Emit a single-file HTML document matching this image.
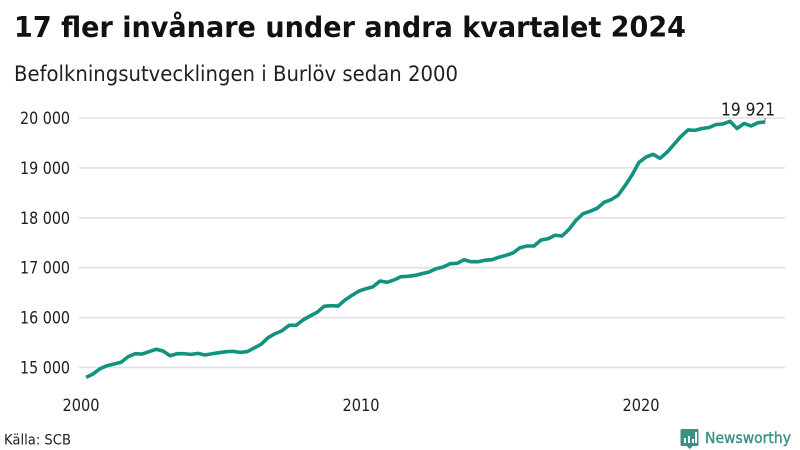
<!DOCTYPE html>
<html lang="sv">
<head>
<meta charset="utf-8">
<title>17 fler invånare under andra kvartalet 2024</title>
<style>
html,body{margin:0;padding:0;background:#fff}
svg{display:block}
text{font-family:"DejaVu Sans","Liberation Sans",sans-serif;fill:#1f1f1f}
</style>
</head>
<body>
<svg id="chart" xmlns="http://www.w3.org/2000/svg" width="800" height="450" viewBox="0 0 800 450">
  <rect width="800" height="450" fill="#ffffff"/>
  <text x="14" y="37" font-size="28.5" font-weight="700" textLength="672" lengthAdjust="spacingAndGlyphs" style="fill:#111">17 fler invånare under andra kvartalet 2024</text>
  <text x="14" y="81" font-size="21" textLength="444" lengthAdjust="spacingAndGlyphs">Befolkningsutvecklingen i Burlöv sedan 2000</text>
  <g id="grid"></g>
  <g id="yticks"></g>
  <g id="xticks"></g>
  <path id="series" fill="none" stroke="#12927f" stroke-width="3.6" stroke-linejoin="round" stroke-linecap="butt"></path>
  <line id="endTick" stroke="#777" stroke-width="1"></line>
  <text id="endLabel" font-size="17.500" text-anchor="middle" textLength="54" lengthAdjust="spacingAndGlyphs"></text>
  <text x="4" y="444.500" font-size="14.500" textLength="67" lengthAdjust="spacingAndGlyphs">Källa: SCB</text>
  <g>
    <path d="M682 429h15a1.5 1.5 0 0 1 1.5 1.5v14a1.5 1.5 0 0 1-1.5 1.5h-4l-3.2 3-3.2-3H682a1.5 1.5 0 0 1-1.500-1.500v-14a1.500 1.500 0 0 1 1.500-1.500z" fill="#3b9186"/>
    <rect x="684" y="438" width="2" height="5" fill="#fff"/>
    <rect x="688" y="436" width="2" height="7" fill="#fff"/>
    <rect x="692" y="439" width="2" height="4" fill="#fff"/>
    <rect x="695" y="432" width="2" height="11" fill="#fff"/>
    <text x="705" y="443" font-size="15.500" font-weight="400" stroke="#3b9186" stroke-width="0.4" textLength="86" lengthAdjust="spacingAndGlyphs" style="fill:#3b9186">Newsworthy</text>
  </g>
</svg>
<script>
const categories = [
"2000Q1","2000Q2","2000Q3","2000Q4","2001Q1","2001Q2","2001Q3","2001Q4","2002Q1","2002Q2","2002Q3","2002Q4",
"2003Q1","2003Q2","2003Q3","2003Q4","2004Q1","2004Q2","2004Q3","2004Q4","2005Q1","2005Q2","2005Q3","2005Q4",
"2006Q1","2006Q2","2006Q3","2006Q4","2007Q1","2007Q2","2007Q3","2007Q4","2008Q1","2008Q2","2008Q3","2008Q4",
"2009Q1","2009Q2","2009Q3","2009Q4","2010Q1","2010Q2","2010Q3","2010Q4","2011Q1","2011Q2","2011Q3","2011Q4",
"2012Q1","2012Q2","2012Q3","2012Q4","2013Q1","2013Q2","2013Q3","2013Q4","2014Q1","2014Q2","2014Q3","2014Q4",
"2015Q1","2015Q2","2015Q3","2015Q4","2016Q1","2016Q2","2016Q3","2016Q4","2017Q1","2017Q2","2017Q3","2017Q4",
"2018Q1","2018Q2","2018Q3","2018Q4","2019Q1","2019Q2","2019Q3","2019Q4","2020Q1","2020Q2","2020Q3","2020Q4",
"2021Q1","2021Q2","2021Q3","2021Q4","2022Q1","2022Q2","2022Q3","2022Q4","2023Q1","2023Q2","2023Q3","2023Q4",
"2024Q1","2024Q2"];
const population = [
14803,14870,14976,15036,15070,15104,15216,15276,15270,15317,15365,15330,
15236,15276,15276,15263,15283,15250,15276,15297,15317,15323,15303,15317,
15390,15465,15597,15677,15737,15845,15845,15952,16032,16106,16226,16238,
16232,16353,16447,16533,16579,16619,16733,16707,16754,16820,16827,16847,
16880,16914,16980,17014,17080,17087,17160,17120,17120,17150,17160,17210,
17248,17295,17400,17435,17435,17555,17580,17650,17635,17770,17950,18082,
18130,18190,18310,18362,18450,18643,18858,19112,19218,19272,19192,19313,
19472,19633,19760,19752,19790,19810,19870,19880,19933,19790,19890,19840,
19906,19921];
const yTickValues = [15000,16000,17000,18000,19000,20000];
const xTickYears = [2000,2010,2020];

const SVG_NS = "http://www.w3.org/2000/svg";
function xScale(t){ return 81 + 28 * (t - 2000); }
function yScale(v){ return 367.5 - (v - 15000) * 0.0499; }
function categoryTime(c){ return Number(c.slice(0,4)) + (Number(c.slice(5)) - 1) / 4 + 0.18; }
function formatValue(v){ return String(v).replace(/\B(?=(\d{3})+$)/g, " "); }

const gridGroup = document.getElementById("grid");
const yTickGroup = document.getElementById("yticks");
yTickValues.forEach(function(v){
  const ln = document.createElementNS(SVG_NS, "line");
  
  
  ln.setAttribute("x1", 79);
  ln.setAttribute("x2", 785);
  ln.setAttribute("y1", yScale(v));
  ln.setAttribute("y2", yScale(v));
  ln.setAttribute("stroke", "#dfdfe7");
  ln.setAttribute("stroke-width", "1.6");
  gridGroup.appendChild(ln);
  const tx = document.createElementNS(SVG_NS, "text");
  
  
  tx.setAttribute("x", 70);
  tx.setAttribute("y", yScale(v) + 6);
  tx.setAttribute("text-anchor", "end");
  tx.setAttribute("font-size", "16.5");
  tx.setAttribute("textLength", "50");
  tx.setAttribute("lengthAdjust", "spacingAndGlyphs");
  tx.textContent = formatValue(v);
  yTickGroup.appendChild(tx);
});

const xTickGroup = document.getElementById("xticks");
xTickYears.forEach(function(y){
  const tx = document.createElementNS(SVG_NS, "text");
  
  
  tx.setAttribute("x", xScale(y));
  tx.setAttribute("y", 411);
  tx.setAttribute("text-anchor", "middle");
  tx.setAttribute("font-size", "16.5");
  tx.setAttribute("textLength", "37");
  tx.setAttribute("lengthAdjust", "spacingAndGlyphs");
  tx.textContent = String(y);
  xTickGroup.appendChild(tx);
});

const d = population.map(function(v, i){
  return (i ? "L" : "M") + xScale(categoryTime(categories[i])).toFixed(2) + " " + yScale(v).toFixed(2);
}).join("");
document.getElementById("series").setAttribute("d", d);

const lastValue = population[population.length - 1];
const lastX = xScale(categoryTime(categories[categories.length - 1]));
const lastY = yScale(lastValue);
const endTick = document.getElementById("endTick");
endTick.setAttribute("x1", lastX);
endTick.setAttribute("x2", lastX);
endTick.setAttribute("y1", lastY - 4);
endTick.setAttribute("y2", lastY);
const endLabel = document.getElementById("endLabel");
endLabel.setAttribute("x", lastX - 17);
endLabel.setAttribute("y", lastY - 6.5);
endLabel.textContent = formatValue(lastValue);
</script>
</body>
</html>
